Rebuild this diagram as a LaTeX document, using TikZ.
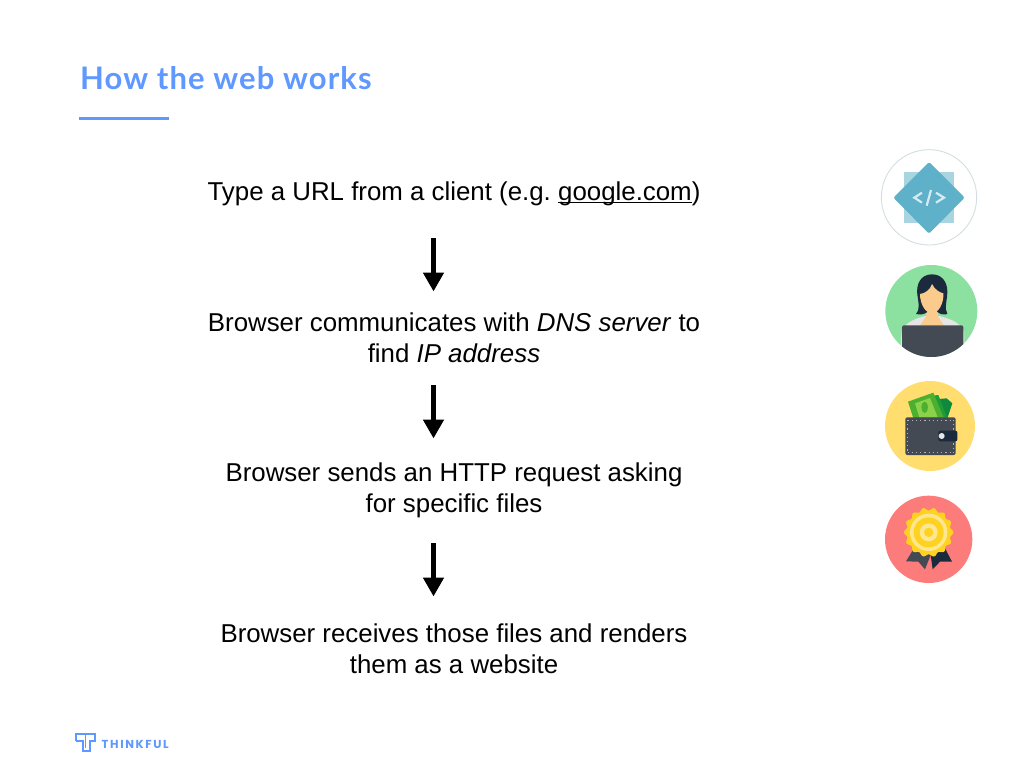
\documentclass[tikz,border=0pt]{standalone}
\usepackage{fontspec}
\setmainfont{Liberation Sans}
\newfontfamily\titlefont[LetterSpace=3.6]{Lato}
\newfontfamily\logofont[LetterSpace=14]{Poppins}
\usetikzlibrary{arrows.meta}
\definecolor{brand}{HTML}{5F98FF}
\definecolor{codeback}{HTML}{A9D5E1}
\definecolor{codefront}{HTML}{5FB0C9}
\definecolor{codeglyph}{HTML}{D5EBF1}
\definecolor{ringline}{HTML}{D3DEE2}
\definecolor{mint}{HTML}{8CE0A0}
\definecolor{hair}{HTML}{1B2A3C}
\definecolor{skin}{HTML}{FBCB8E}
\definecolor{slate}{HTML}{434A54}
\definecolor{sun}{HTML}{FFDD6E}
\definecolor{coral}{HTML}{FC7B7B}
\definecolor{gold}{HTML}{FFD21F}
\definecolor{goldlight}{HTML}{FFE690}
\definecolor{billdark}{HTML}{0F8A3C}
\definecolor{billmid}{HTML}{1F9B3A}
\definecolor{billface}{HTML}{4CAF2F}
\definecolor{billlight}{HTML}{8BD24A}
\newcommand{\linkline}[1]{\setbox0\hbox{#1}\rlap{\rule[-3pt]{\wd0}{0.9pt}}\box0}
\tikzset{
  stepnode/.style={font=\frenchspacing\fontsize{25.85}{30.6}\selectfont, align=center, text=black, inner sep=0pt},
  flowarrow/.style={line width=5pt, -{Triangle[width=20pt,length=19pt]}},
  iconzoom/.style={x=0.33333pt,y=-0.33333pt},
}
\begin{document}
\begin{tikzpicture}[x=1pt,y=-1pt]
\useasboundingbox (0,0) rectangle (1024,768);
\fill[white] (0,0) rectangle (1024,768);

% title
\node[anchor=base west, inner sep=0pt, text=brand, font=\titlefont\bfseries\fontsize{31}{36}\selectfont] (title) at (80,89) {How the web works};
\coordinate (ruleL) at (79,118.3);
\coordinate (ruleR) at (169,118.3);
\draw[brand, line width=2.8pt] (ruleL) -- (ruleR);

% steps
\node[stepnode, anchor=base] (s1) at (454,200) {Type a URL from a client (e.g. \linkline{google.com})};
\node[stepnode] (s2) at (454,338) {Browser communicates with \textit{DNS server} to\\find \textit{IP address}};
\node[stepnode] (s3) at (454,490.5) {Browser sends an HTTP request asking\\for specific files};
\node[stepnode] (s4) at (454,649) {Browser receives those files and renders\\them as a website};

% arrows
\coordinate (a1s) at (433.5,238); \coordinate (a1e) at (433.5,291.5);
\coordinate (a2s) at (433.5,385); \coordinate (a2e) at (433.5,438.5);
\coordinate (a3s) at (433.5,543); \coordinate (a3e) at (433.5,596.5);
\draw[flowarrow] (a1s) -- (a1e);
\draw[flowarrow] (a2s) -- (a2e);
\draw[flowarrow] (a3s) -- (a3e);

% code icon
\begin{scope}[shift={(870,140)},iconzoom]
  \draw[ringline, line width=0.9pt] (177,172) circle (143);
  \fill[codeback] (102,97) rectangle (252,250);
  \fill[codefront, rounded corners=1.5pt] (177,66) -- (284,173) -- (177,281) -- (70,173) -- cycle;
  \draw[codeglyph, line width=2.2pt] (156,158) -- (133,173) -- (156,188);
  \draw[codeglyph, line width=2.2pt] (183,150) -- (170,197);
  \draw[codeglyph, line width=2.2pt] (198,158) -- (222,173) -- (198,188);
\end{scope}

% person icon
\begin{scope}[shift={(870,140)},iconzoom]
  \fill[mint] (184,513) circle (138);
  \begin{scope}
    \clip (184,513) circle (138);
    \fill[black!10] (90,640) -- (95,575) .. controls (105,545) and (140,535) .. (165,528) -- (208,528) .. controls (235,535) and (270,545) .. (282,575) -- (285,640) -- cycle;
    \fill[skin] (168,500) -- (204,500) -- (204,530) -- (222,556) -- (150,556) -- (168,530) -- cycle;
    \fill[hair] (186,403) .. controls (150,403) and (138,435) .. (142,465) .. controls (146,490) and (150,510) .. (138,522) .. controls (155,526) and (170,522) .. (176,510) -- (198,510) .. controls (204,522) and (220,526) .. (232,522) .. controls (222,505) and (232,480) .. (232,455) .. controls (232,425) and (215,403) .. (186,403) -- cycle;
    \fill[skin] (150,462) .. controls (165,460) and (180,450) .. (186,432) .. controls (195,450) and (210,458) .. (220,460) .. controls (222,490) and (205,520) .. (186,520) .. controls (165,520) and (150,490) .. (150,462) -- cycle;
    \fill[slate, rounded corners=2pt] (96,556) -- (280,556) -- (280,660) -- (96,660) -- cycle;
  \end{scope}
\end{scope}

% wallet icon
\begin{scope}[shift={(870,370)},iconzoom]
  \fill[sun] (180,168) circle (135);
  \fill[billdark] (170,90) -- (230,85) -- (247,100) -- (232,145) -- (180,145) -- cycle;
  \fill[billmid] (150,82) -- (205,75) -- (232,145) -- (160,145) -- cycle;
  \fill[billface] (114,95) -- (190,68) -- (222,145) -- (130,145) -- cycle;
  \fill[billlight] (135,100) -- (180,84) -- (203,142) -- (148,142) -- cycle;
  \fill[billface] (164,112) ellipse (10 and 17);
  \fill[slate, rounded corners=2pt] (106,142) rectangle (257,255);
  \draw[black!30, line width=0.8pt, dash pattern=on 1.2pt off 3pt] (113,150) -- (250,150) (113,246) -- (250,246) (113,150) -- (113,246) (250,150) -- (250,180) (250,220) -- (250,246);
  \fill[hair, rounded corners=2pt] (205,182) rectangle (262,214);
  \fill[white!90!black] (215,198) circle (9);
\end{scope}

% badge icon
\begin{scope}[shift={(870,370)},iconzoom]
  \fill[coral] (176,508) circle (131);
  \fill[slate] (132,535) -- (108,574) -- (145,575) -- (165,598) -- (182,555) -- cycle;
  \fill[hair] (182,555) -- (188,598) -- (210,575) -- (246,575) -- (225,535) -- cycle;
  \fill[gold] plot[domain=0:360,samples=169,smooth] ({176+70*(1+0.06*cos(14*\x))*cos(\x)},{487+70*(1+0.06*cos(14*\x))*sin(\x)}) -- cycle;
  \fill[goldlight] (176,487) circle (56);
  \fill[gold] (176,487) circle (45);
  \fill[goldlight] (176,487) circle (27);
  \fill[gold] (176,487) circle (14);
\end{scope}

% logo
\begin{scope}[shift={(60,720)},iconzoom]
  \draw[brand, line width=2pt, line join=miter] (48,64) -- (48,43) -- (105,43) -- (105,64) -- (90,64) -- (90,94) -- (68,94) -- (68,64) -- (48,64);
  \draw[brand, line width=1.4pt] (76,43) -- (76,85);
\end{scope}
\node[anchor=base west, inner sep=0pt, text=brand, font=\logofont\bfseries\fontsize{11.6}{13}\selectfont] (logo) at (101.5,748) {THINKFUL};
\end{tikzpicture}
\end{document}
